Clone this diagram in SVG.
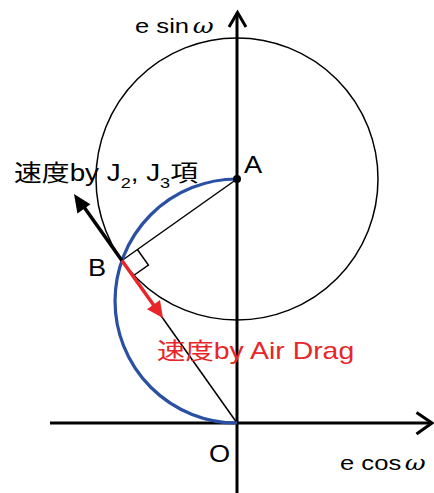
<svg xmlns="http://www.w3.org/2000/svg" width="434" height="493" viewBox="0 0 434 493">
<style>
.t{font-family:"Liberation Sans","Noto Sans CJK JP",sans-serif;fill:#000}
.ax{stroke:#000;stroke-width:3;fill:none}
.thin{stroke:#000;stroke-width:1.5;fill:none}
.w{font-style:italic;font-family:"DejaVu Serif","Liberation Serif",serif}
</style>
<rect width="434" height="493" fill="#fff"/>
<g id="circle"><circle cx="237" cy="179" r="141" class="thin"/></g>
<g id="connectors">
<line x1="237" y1="493" x2="237" y2="13" class="ax"/>
<polyline points="229,27 237.5,12.5 246,27" class="ax"/>
<line x1="50" y1="423" x2="431" y2="423" class="ax"/>
<polyline points="416.5,412.5 432,423 416.5,434" class="ax"/>
<line x1="237" y1="179" x2="121.9" y2="260.5" class="thin"/>
<line x1="121.9" y1="260.5" x2="237" y2="423" class="thin"/>
<polyline points="137.4,249.5 148.4,265.0 132.9,276.0" class="thin"/>
<path d="M237,179 A122,122 0 0 0 237,423" stroke="#2950a3" stroke-width="3.2" fill="none"/>
<line x1="121.9" y1="260.5" x2="84" y2="207" stroke="#000" stroke-width="3.5"/>
<polygon points="74,194 77.4,213.4 90.4,204.2" fill="#000"/>
<line x1="121.9" y1="260.5" x2="155" y2="307" stroke="#e8262a" stroke-width="3.5"/>
<polygon points="163,318 147.0,309.2 160.0,300.0" fill="#e8262a"/>
</g>
<g id="A"><circle cx="237" cy="179" r="4" fill="#000"/><text transform="translate(244 173) scale(1.18 1)" class="t" font-size="23">A</text></g>
<g id="B"><text transform="translate(88 276) scale(1.18 1)" class="t" font-size="23">B</text></g>
<g id="O"><text transform="translate(209 462) scale(1.18 1)" class="t" font-size="23">O</text></g>
<g id="y-label"><text transform="translate(135 33) scale(1.22 1)" class="t" font-size="21">e sin<tspan class="w" dx="3">ω</tspan></text></g>
<g id="x-label"><text transform="translate(340 470) scale(1.22 1)" class="t" font-size="21">e cos<tspan class="w" dx="3">ω</tspan></text></g>
<g id="label-j"><text transform="translate(14 181) scale(1.21 1)" class="t" font-size="23">速度by J<tspan font-size="15" dy="7">2</tspan><tspan dy="-7">, J</tspan><tspan font-size="15" dy="7">3</tspan><tspan dy="-7">項</tspan></text></g>
<g id="label-drag"><text transform="translate(157 359) scale(1.235 1)" class="t" font-size="23" style="fill:#e8262a">速度by Air Drag</text></g>
</svg>
